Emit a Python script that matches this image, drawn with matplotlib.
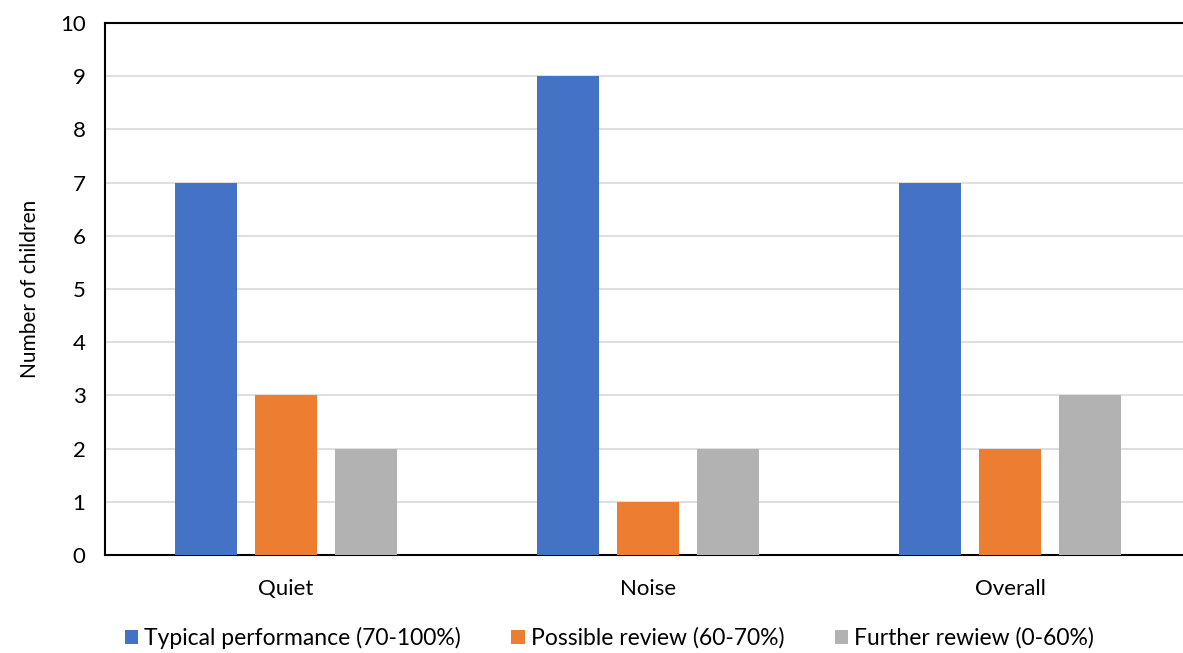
import matplotlib
matplotlib.use("Agg")
import matplotlib.pyplot as plt
import numpy as np

categories = ["Quiet", "Noise", "Overall"]
series_names = ["Typical performance (70-100%)", "Possible review (60-70%)", "Further rewiew (0-60%)"]
typical = [7, 9, 7]
possible = [3, 1, 2]
further = [2, 2, 3]
colors = ["#4472C4", "#ED7D31", "#B2B2B2"]

plt.rcParams['font.family'] = ['Lato', 'DejaVu Sans']

fig = plt.figure(figsize=(11.83, 6.53), dpi=100)
ax = fig.add_axes([105/1183, 1-555/653, 1086/1183, 532/653])

x = np.arange(len(categories))
w = 0.171
step = 0.221
for i, (vals, name, c) in enumerate(zip([typical, possible, further], series_names, colors)):
    ax.bar(x + (i-1)*step, vals, width=w, color=c, label=name, zorder=3)

ax.set_xlim(-0.5, 2.5)
ax.set_ylim(0, 10)
ax.set_yticks(range(0, 11))
ax.yaxis.grid(True, color="#D9D9D9", linewidth=1.2, zorder=0)
ax.set_xticks(x)
ax.set_xticklabels(categories, fontsize=16)
ax.tick_params(axis='y', labelsize=16, length=0, pad=14)
ax.tick_params(axis='x', length=0, pad=17)
for s in ['left', 'top', 'bottom']:
    ax.spines[s].set_color('black')
    ax.spines[s].set_linewidth(1.5)
ax.spines['right'].set_visible(False)
ax.set_ylabel("Number of children", fontsize=15, labelpad=14)

fig.legend(loc='center', bbox_to_anchor=(0.515, 1-638/653), ncol=3, frameon=False,
           fontsize=16.5, handlelength=0.6, handleheight=0.6, handletextpad=0.25, columnspacing=2.2)

fig.savefig("out.png", dpi=100)
